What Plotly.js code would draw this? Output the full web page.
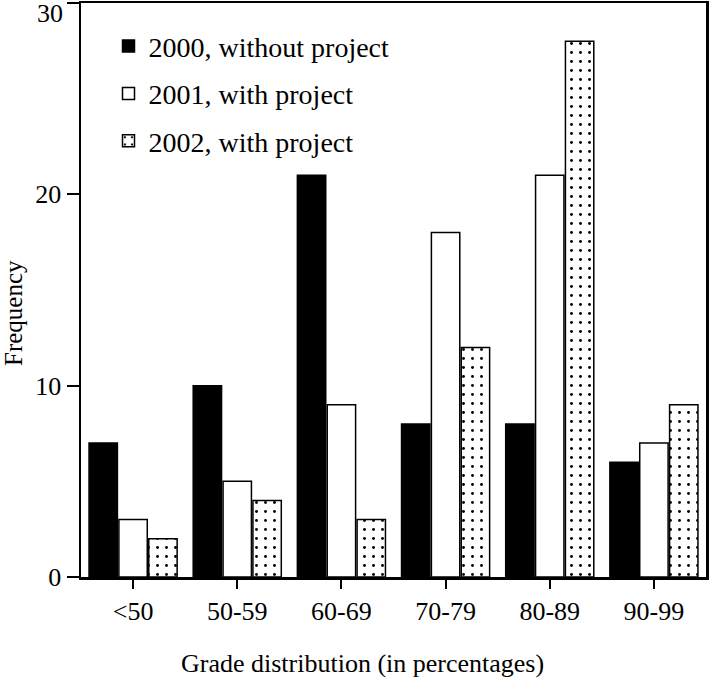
<!DOCTYPE html>
<html>
<head>
<meta charset="utf-8">
<script src="https://cdn.plot.ly/plotly-3.0.1.min.js"></script>
<style>html,body{margin:0;padding:0;background:#fff;}#chart{width:710px;height:680px;}</style>
</head>
<body>
<div id="chart"></div>
<script>
const categories = ["<50", "50-59", "60-69", "70-79", "80-89", "90-99"];
const seriesNames = ["2000, without project", "2001, with project", "2002, with project"];
const values2000 = [7, 10, 21, 8, 8, 6];
const values2001 = [3, 5, 9, 18, 21, 7];
const values2002 = [2, 4, 3, 12, 28, 9];
const yTicks = [0, 10, 20, 30];
const xTitle = "Grade distribution (in percentages)";
const yTitle = "Frequency";

const serif = "'Liberation Serif', 'Times New Roman', serif";
const lineStyle = {color: "black", width: 1.5};

const traces = [
  {type: "bar", name: seriesNames[0], x: categories, y: values2000, legendgroup: "a",
   marker: {color: "black", line: lineStyle}},
  {type: "bar", name: seriesNames[1], x: categories, y: values2001, legendgroup: "b",
   marker: {color: "white", line: lineStyle}},
  {type: "bar", name: seriesNames[2], x: categories, y: values2002, legendgroup: "c",
   marker: {color: "white", line: lineStyle,
            pattern: {shape: ".", fgcolor: "black", bgcolor: "white", size: 9, solidity: 0.08, fillmode: "replace"}}}
];

const topTick = yTicks[yTicks.length - 1];

const layout = {
  width: 710, height: 680,
  margin: {l: 81, r: 4, t: 3, b: 103},
  paper_bgcolor: "white", plot_bgcolor: "white",
  barmode: "group", bargap: 0.14, bargroupgap: 0.05,
  font: {family: serif, color: "black", size: 26},
  showlegend: true,
  legend: {x: 0.044, y: 0.968, xanchor: "left", yanchor: "top",
           font: {family: serif, size: 28, color: "black"},
           tracegroupgap: 8, bgcolor: "rgba(0,0,0,0)", traceorder: "grouped"},
  xaxis: {
    type: "category", range: [-0.5, 5.5],
    showline: true, linecolor: "black", linewidth: 2.5, mirror: true,
    ticks: "outside", ticklen: 9, tickwidth: 2, tickcolor: "black",
    showgrid: false, zeroline: false,
    tickfont: {family: serif, size: 26}
  },
  yaxis: {
    range: [0, 30], tickvals: yTicks,
    ticktext: yTicks.map(v => v === topTick ? "" : String(v)),
    showline: true, linecolor: "black", linewidth: 2.5, mirror: true,
    ticks: "outside", ticklen: 12, tickwidth: 2, tickcolor: "black",
    showgrid: false, zeroline: false,
    tickfont: {family: serif, size: 26}
  },
  annotations: [
    {text: String(topTick), xref: "paper", yref: "y", x: 0, y: topTick,
     xanchor: "right", yanchor: "middle", xshift: -16, yshift: -10, showarrow: false,
     font: {family: serif, size: 26, color: "black"}},
    {text: xTitle, xref: "paper", yref: "paper", x: 0.45, y: 0,
     xanchor: "center", yanchor: "middle", yshift: -86, showarrow: false,
     font: {family: serif, size: 26, color: "black"}},
    {text: yTitle, xref: "paper", yref: "paper", x: 0, y: 0.46, textangle: -90,
     xanchor: "center", yanchor: "middle", xshift: -67, showarrow: false,
     font: {family: serif, size: 25, color: "black"}}
  ]
};

Plotly.newPlot("chart", traces, layout, {displayModeBar: false, staticPlot: true});
</script>
</body>
</html>
